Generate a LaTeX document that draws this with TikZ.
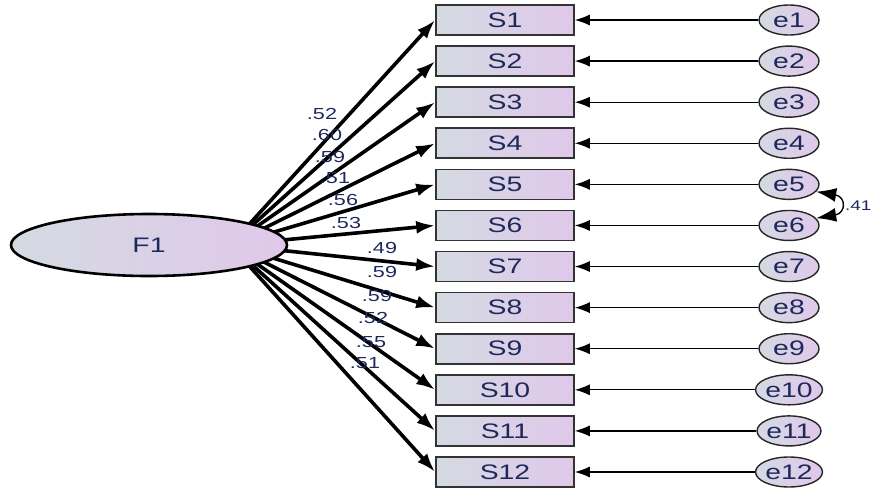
\documentclass[tikz,border=0pt]{standalone}
\usepackage{fontspec}
\setmainfont{Liberation Sans}
\newfontfamily\widefont[FakeStretch=1.35]{Liberation Sans}
\usetikzlibrary{arrows.meta,shapes.geometric,calc}
\pgfdeclarelayer{bg}
\pgfsetlayers{bg,main}
\definecolor{lft}{RGB}{212,218,226}
\definecolor{rgt}{RGB}{224,200,234}
\definecolor{txt}{RGB}{30,40,90}
\begin{document}
\begin{tikzpicture}[x=1pt,y=-1pt,
  shade base/.style={left color=lft, right color=rgt},
  obs/.style={shade base, draw=black!80, line width=1.6pt, minimum width=138pt, minimum height=30pt, inner sep=0pt, font=\widefont\fontsize{21}{21}\selectfont, text=txt},
  err/.style={shade base, ellipse, draw=black!85, line width=1.4pt, minimum width=60pt, minimum height=30pt, inner sep=0pt, font=\widefont\fontsize{21}{21}\selectfont, text=txt},
  lat/.style={shade base, ellipse, draw=black, line width=2.6pt, minimum width=276pt, minimum height=62pt, inner sep=0pt, font=\widefont\fontsize{21}{21}\selectfont, text=txt},
  load/.style={line width=3.6pt, -{Latex[length=19pt,width=13pt]}},
  res/.style={line width=1.2pt, -{Latex[length=15pt,width=11pt]}},
  cov/.style={line width=1.4pt, {Latex[length=20pt,width=14pt]}-{Latex[length=20pt,width=14pt]}},
  lbl/.style={font=\widefont\fontsize{16}{16}\selectfont, text=txt, inner sep=0pt}]
\useasboundingbox (0,0) rectangle (872,496);
\clip (0,0) rectangle (872,496);
\node[lat] (F1) at (149,245) {F1};
\foreach \i in {1,...,12}{
  \node[obs] (S\i) at (505,{20+41.09*(\i-1)}) {S\i};
  \node[err] (e\i) at (789,{20+41.09*(\i-1)}) {e\i};
  \draw[res] (e\i) -- (S\i.east);
}
\begin{pgfonlayer}{bg}
\foreach \i in {1,...,12}{
  \draw[load] ($(F1.east)+(-58,0)$) -- (S\i.west);
}
\end{pgfonlayer}
\draw[cov] (e5.-15) .. controls +(30,5) and +(30,-5) .. (e6.15);
\node[lbl, anchor=west, font=\widefont\fontsize{14}{14}\selectfont] (c56) at (845,206) {.41};
\node[lbl] (l1) at (322,114) {.52};
\node[lbl] (l2) at (327,135) {.60};
\node[lbl] (l3) at (330,157) {.59};
\node[lbl] (l4) at (335,178) {.51};
\node[lbl] (l5) at (343,200) {.56};
\node[lbl] (l6) at (346,223) {.53};
\node[lbl] (l7) at (382,248) {.49};
\node[lbl] (l8) at (382,272) {.59};
\node[lbl] (l9) at (377,296) {.59};
\node[lbl] (l10) at (373,318) {.52};
\node[lbl] (l11) at (371,342) {.55};
\node[lbl] (l12) at (365,363) {.51};
\end{tikzpicture}
\end{document}
